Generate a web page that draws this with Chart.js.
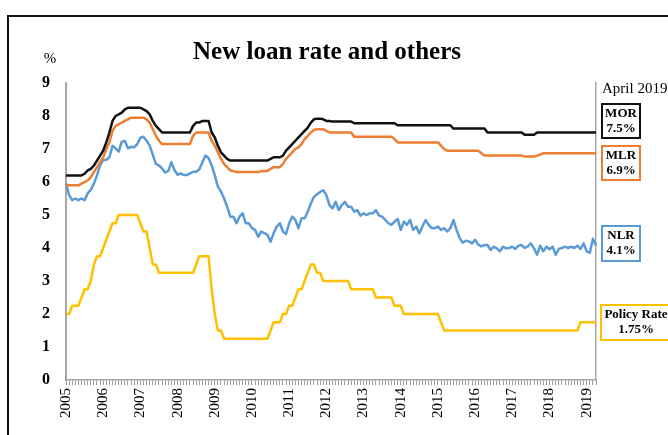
<!DOCTYPE html>
<html>
<head>
<meta charset="utf-8">
<script src="https://cdn.jsdelivr.net/npm/chart.js@4.4.1/dist/chart.umd.min.js"></script>
<style>
  body { margin: 0; background: #fff; }
  #wrap { position: relative; width: 668px; height: 435px; overflow: hidden; }
  #frame { position: absolute; left: 7px; top: 15px; width: 720px; height: 520px; border: 2px solid #111; pointer-events: none; }
</style>
</head>
<body>
<div id="wrap">
  <canvas id="rateChart" width="668" height="435"></canvas>
  <div id="frame"></div>
</div>
<script>
var years = ['2005', '2006', '2007', '2008', '2009', '2010', '2011', '2012', '2013', '2014', '2015', '2016', '2017', '2018', '2019'];

// monthly, Jan 2005 - Apr 2019
var mor = [
  6.2, 6.2, 6.2, 6.2, 6.2, 6.2, 6.25, 6.35, 6.4, 6.5, 6.65, 6.8,        // 2005
  6.95, 7.2, 7.5, 7.85, 8.0, 8.05, 8.1, 8.2, 8.25, 8.25, 8.25, 8.25,    // 2006
  8.25, 8.2, 8.15, 8.05, 7.85, 7.7, 7.6, 7.5, 7.5, 7.5, 7.5, 7.5,       // 2007
  7.5, 7.5, 7.5, 7.5, 7.5, 7.7, 7.8, 7.8, 7.85, 7.85, 7.85, 7.5,        // 2008
  7.35, 7.1, 6.9, 6.8, 6.7, 6.65, 6.65, 6.65, 6.65, 6.65, 6.65, 6.65,   // 2009
  6.65, 6.65, 6.65, 6.65, 6.65, 6.65, 6.7, 6.75, 6.75, 6.75, 6.8, 6.95, // 2010
  7.05, 7.15, 7.25, 7.35, 7.45, 7.55, 7.65, 7.8, 7.9, 7.92, 7.92, 7.9,  // 2011
  7.85, 7.85, 7.83, 7.83, 7.83, 7.83, 7.83, 7.83, 7.83, 7.78, 7.78, 7.78, // 2012
  7.78, 7.78, 7.78, 7.78, 7.78, 7.78, 7.78, 7.78, 7.78, 7.78, 7.78, 7.72, // 2013
  7.72, 7.72, 7.72, 7.72, 7.72, 7.72, 7.72, 7.72, 7.72, 7.72, 7.72, 7.72, // 2014
  7.72, 7.72, 7.72, 7.72, 7.72, 7.62, 7.62, 7.62, 7.62, 7.62, 7.62, 7.62, // 2015
  7.62, 7.62, 7.62, 7.62, 7.5, 7.5, 7.5, 7.5, 7.5, 7.5, 7.5, 7.5,       // 2016
  7.5, 7.5, 7.5, 7.5, 7.43, 7.43, 7.43, 7.43, 7.5, 7.5, 7.5, 7.5,       // 2017
  7.5, 7.5, 7.5, 7.5, 7.5, 7.5, 7.5, 7.5, 7.5, 7.5, 7.5, 7.5,           // 2018
  7.5, 7.5, 7.5, 7.5                                                    // 2019
];

var mlr = [
  5.9, 5.9, 5.9, 5.9, 5.9, 5.95, 6.0, 6.05, 6.15, 6.3, 6.45, 6.6,
  6.75, 7.0, 7.2, 7.55, 7.7, 7.75, 7.8, 7.85, 7.9, 7.95, 7.95, 7.95,
  7.95, 7.95, 7.9, 7.8, 7.6, 7.4, 7.25, 7.15, 7.15, 7.15, 7.15, 7.15,
  7.15, 7.15, 7.15, 7.15, 7.15, 7.4, 7.5, 7.5, 7.5, 7.5, 7.5, 7.25,
  7.1, 6.9, 6.7, 6.55, 6.45, 6.35, 6.33, 6.3, 6.3, 6.3, 6.3, 6.3,
  6.3, 6.3, 6.3, 6.33, 6.33, 6.33, 6.4, 6.45, 6.45, 6.45, 6.55, 6.7,
  6.8, 6.9, 7.0, 7.05, 7.15, 7.3, 7.4, 7.5, 7.58, 7.6, 7.6, 7.6,
  7.55, 7.5, 7.5, 7.5, 7.5, 7.5, 7.5, 7.5, 7.5, 7.37, 7.37, 7.37,
  7.37, 7.37, 7.37, 7.37, 7.37, 7.37, 7.37, 7.37, 7.37, 7.37, 7.3, 7.2,
  7.2, 7.2, 7.2, 7.2, 7.2, 7.2, 7.2, 7.2, 7.2, 7.2, 7.2, 7.2,
  7.2, 7.1, 7.0, 6.95, 6.95, 6.95, 6.95, 6.95, 6.95, 6.95, 6.95, 6.95,
  6.95, 6.95, 6.88, 6.8, 6.8, 6.8, 6.8, 6.8, 6.8, 6.8, 6.8, 6.8,
  6.8, 6.8, 6.8, 6.8, 6.77, 6.77, 6.77, 6.77, 6.8, 6.83, 6.87, 6.87,
  6.87, 6.87, 6.87, 6.87, 6.87, 6.87, 6.87, 6.87, 6.87, 6.87, 6.87, 6.87,
  6.87, 6.87, 6.87, 6.87
];

var nlr = [
  5.96, 5.6, 5.45, 5.5, 5.45, 5.5, 5.45, 5.66, 5.76, 5.95, 6.2, 6.5,
  6.67, 6.67, 6.75, 7.1, 7.02, 6.92, 7.22, 7.24, 7.02, 7.07, 7.05, 7.15,
  7.34, 7.37, 7.25, 7.1, 6.82, 6.55, 6.5, 6.41, 6.29, 6.33, 6.6, 6.36,
  6.22, 6.26, 6.21, 6.21, 6.26, 6.31, 6.31, 6.38, 6.6, 6.8, 6.73, 6.5,
  6.21, 5.86, 5.71, 5.5, 5.25, 4.95, 4.95, 4.75, 4.95, 5.05, 4.75, 4.75,
  4.6, 4.55, 4.34, 4.5, 4.45, 4.4, 4.19, 4.45, 4.65, 4.75, 4.5, 4.42,
  4.75, 4.95, 4.85, 4.6, 4.9, 4.9, 5.1, 5.35, 5.55, 5.63, 5.7, 5.75,
  5.6, 5.3, 5.2, 5.4, 5.15, 5.3, 5.4, 5.25, 5.25, 5.1, 5.15, 4.98,
  5.05, 5.0, 5.05, 5.05, 5.15, 4.98, 4.95, 4.85, 4.75, 4.7, 4.8, 4.88,
  4.55, 4.8, 4.7, 4.85, 4.55, 4.65, 4.44, 4.65, 4.85, 4.7, 4.6, 4.6,
  4.65, 4.55, 4.6, 4.5, 4.6, 4.85, 4.55, 4.3, 4.16, 4.22, 4.2, 4.14,
  4.25, 4.1, 4.05, 4.09, 4.09, 3.94, 4.04, 3.99, 3.9, 4.04, 3.99, 4.0,
  4.04, 3.97, 4.07, 4.09, 4.0, 4.05, 4.14, 3.99, 3.8, 4.07, 3.9, 4.04,
  3.96, 4.04, 3.79, 3.97, 4.0, 4.04, 4.0, 4.04, 4.0, 4.07, 3.97, 4.14,
  3.9, 3.85, 4.28, 4.08
];

var policyRate = [
  2.0, 2.0, 2.25, 2.25, 2.25, 2.5, 2.75, 2.75, 3.0, 3.5, 3.75, 3.75,
  4.0, 4.25, 4.5, 4.75, 4.75, 5.0, 5.0, 5.0, 5.0, 5.0, 5.0, 5.0,
  4.75, 4.5, 4.5, 4.0, 3.5, 3.5, 3.25, 3.25, 3.25, 3.25, 3.25, 3.25,
  3.25, 3.25, 3.25, 3.25, 3.25, 3.25, 3.5, 3.75, 3.75, 3.75, 3.75, 2.75,
  2.0, 1.5, 1.5, 1.25, 1.25, 1.25, 1.25, 1.25, 1.25, 1.25, 1.25, 1.25,
  1.25, 1.25, 1.25, 1.25, 1.25, 1.25, 1.5, 1.75, 1.75, 1.75, 2.0, 2.0,
  2.25, 2.25, 2.5, 2.75, 2.75, 3.0, 3.25, 3.5, 3.5, 3.25, 3.25, 3.0,
  3.0, 3.0, 3.0, 3.0, 3.0, 3.0, 3.0, 3.0, 2.75, 2.75, 2.75, 2.75,
  2.75, 2.75, 2.75, 2.75, 2.5, 2.5, 2.5, 2.5, 2.5, 2.5, 2.25, 2.25,
  2.25, 2.0, 2.0, 2.0, 2.0, 2.0, 2.0, 2.0, 2.0, 2.0, 2.0, 2.0,
  2.0, 1.75, 1.5, 1.5, 1.5, 1.5, 1.5, 1.5, 1.5, 1.5, 1.5, 1.5,
  1.5, 1.5, 1.5, 1.5, 1.5, 1.5, 1.5, 1.5, 1.5, 1.5, 1.5, 1.5,
  1.5, 1.5, 1.5, 1.5, 1.5, 1.5, 1.5, 1.5, 1.5, 1.5, 1.5, 1.5,
  1.5, 1.5, 1.5, 1.5, 1.5, 1.5, 1.5, 1.5, 1.5, 1.5, 1.75, 1.75,
  1.75, 1.75, 1.75, 1.75
];

var boxNames = ['MOR', 'MLR', 'NLR', 'Policy Rate'];
var boxValues = ['7.5%', '6.9%', '4.1%', '1.75%'];

var months = [];
years.forEach(function (y) {
  for (var m = 1; m <= 12 && months.length < mor.length; m++) {
    months.push(y + '-' + (m < 10 ? '0' + m : m));
  }
});

var serif = '"Liberation Serif", "Times New Roman", serif';

// title, % label and the April 2019 boxes
var extras = {
  id: 'extras',
  afterDraw: function (chart) {
    var ctx = chart.ctx;
    ctx.save();
    ctx.fillStyle = '#000';
    ctx.textBaseline = 'middle';
    ctx.textAlign = 'center';
    ctx.font = 'bold 25px ' + serif;
    ctx.fillText('New loan rate and others', 327, 53);
    ctx.font = '15px ' + serif;
    ctx.fillText('%', 50, 59);
    ctx.textAlign = 'left';
    ctx.font = '15px ' + serif;
    ctx.fillText('April 2019', 602, 89);

    var boxes = [
      { x: 602, y: 104, w: 38, h: 34, color: '#111' },
      { x: 602, y: 146, w: 38, h: 34, color: '#ED7D31' },
      { x: 602, y: 226, w: 38, h: 35, color: '#5B9BD5' },
      { x: 601, y: 305, w: 72, h: 35, color: '#FFC000' }
    ];
    ctx.textAlign = 'center';
    ctx.font = 'bold 13px ' + serif;
    boxes.forEach(function (b, i) {
      ctx.lineWidth = 2;
      ctx.strokeStyle = b.color;
      ctx.strokeRect(b.x, b.y, b.w, b.h);
      var cx = i === 3 ? 636 : b.x + b.w / 2;
      ctx.fillStyle = '#000';
      ctx.fillText(boxNames[i], cx, b.y + 10);
      ctx.fillText(boxValues[i], cx, b.y + 25);
    });
    ctx.restore();
  }
};

var ctx = document.getElementById('rateChart').getContext('2d');
new Chart(ctx, {
  type: 'line',
  data: {
    labels: months,
    datasets: [
      { label: 'MOR', data: mor, borderColor: '#111111' },
      { label: 'MLR', data: mlr, borderColor: '#ED7D31' },
      { label: 'NLR', data: nlr, borderColor: '#5B9BD5' },
      { label: 'Policy Rate', data: policyRate, borderColor: '#FFC000' }
    ]
  },
  options: {
    responsive: false,
    animation: false,
    layout: { padding: { top: 83, right: 72, left: 0, bottom: 0 } },
    elements: {
      line: { borderWidth: 2.5, tension: 0, borderJoinStyle: 'round' },
      point: { radius: 0 }
    },
    plugins: {
      legend: { display: false },
      tooltip: { enabled: false }
    },
    scales: {
      x: {
        afterFit: function (scale) { scale.height = 55; },
        grid: { display: true, drawOnChartArea: false, drawTicks: true, tickLength: 5, color: '#9a9a9a', lineWidth: 1 },
        border: { display: true, color: '#a6a6a6', width: 1.5 },
        ticks: {
          autoSkip: false,
          minRotation: 90,
          maxRotation: 90,
          padding: 3,
          color: '#000',
          font: { family: serif, size: 15 },
          callback: function (val, i) {
            return i % 12 === 0 ? months[i].slice(0, 4) : '';
          }
        }
      },
      y: {
        min: 0,
        max: 9,
        afterFit: function (scale) { scale.width = 66; },
        grid: { display: false, drawTicks: false },
        border: { display: true, color: '#a6a6a6', width: 2 },
        ticks: {
          stepSize: 1,
          padding: 16,
          color: '#000',
          font: { family: serif, size: 16, weight: 'bold' }
        }
      },
      y2: {
        position: 'right',
        min: 0,
        max: 9,
        afterFit: function (scale) { scale.width = 0; },
        grid: { display: false, drawTicks: false },
        border: { display: true, color: '#a6a6a6', width: 1.5 },
        ticks: { display: false }
      }
    }
  },
  plugins: [extras]
});
</script>
</body>
</html>
